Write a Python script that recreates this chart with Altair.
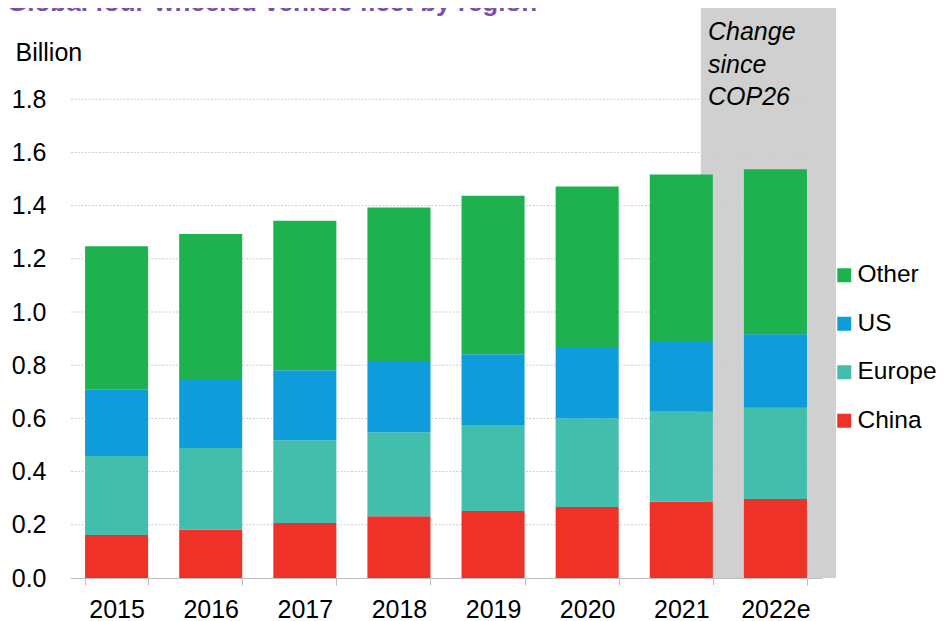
import altair as alt
import pandas as pd

years = ["2015", "2016", "2017", "2018", "2019", "2020", "2021", "2022e"]
regions = ["Other", "US", "Europe", "China"]
colors = ["#1DB150", "#0F9CDA", "#43BEAC", "#EE3228"]
china = [0.162, 0.182, 0.207, 0.232, 0.252, 0.267, 0.287, 0.297]
europe = [0.297, 0.307, 0.311, 0.316, 0.323, 0.333, 0.338, 0.343]
us = [0.251, 0.255, 0.263, 0.268, 0.266, 0.265, 0.266, 0.276]
other = [0.537, 0.549, 0.562, 0.577, 0.596, 0.607, 0.626, 0.621]
y_ticks = [0.0, 0.2, 0.4, 0.6, 0.8, 1.0, 1.2, 1.4, 1.6, 1.8]
grid_vals = [0.2, 0.4, 0.6, 0.8, 1.0, 1.2, 1.4, 1.6, 1.8]
title_text = "Global four-wheeled vehicle fleet by region"
note_text = "Change\nsince\nCOP26"

series = {"China": china, "Europe": europe, "US": us, "Other": other}
stack_rank = {"China": 0, "Europe": 1, "US": 2, "Other": 3}
rows = []
for reg, vals in series.items():
    for yr, v in zip(years, vals):
        rows.append({"year": yr, "region": reg, "value": v, "rank": stack_rank[reg]})
df = pd.DataFrame(rows)

FONT = "Liberation Sans"
ymax = 2.1429

xscale = alt.Scale(domain=years, paddingInner=0.33, paddingOuter=0.16)
yscale = alt.Scale(domain=[0, ymax], nice=False, zero=True)
xaxis = alt.Axis(title=None, labelFontSize=25, labelColor="black", labelFont=FONT,
                 domainColor="#bfbfbf", tickColor="#bfbfbf", tickSize=7,
                 tickBand="extent", labelPadding=12, labelAngle=0)
yaxis = alt.Axis(title="Billion", values=y_ticks, format=".1f", grid=False, ticks=False,
                 domain=False, labelFontSize=25, labelColor="black", labelFont=FONT,
                 labelPadding=24, titleAngle=0, titleAlign="left",
                 titleBaseline="alphabetic", titleX=-55, titleY=52,
                 titleFontSize=25, titleFontWeight="normal", titleFont=FONT,
                 titleColor="black")

band_df = pd.DataFrame({"start": ["2021"], "end": ["2022e"], "top": [2.3], "bottom": [0.0]})
band = alt.Chart(band_df).mark_rect(color="#D0D0D0", x2Offset=29).encode(
    x=alt.X("start:N", scale=xscale, axis=xaxis, bandPosition=0.81),
    x2=alt.X2("end", bandPosition=1),
    y=alt.Y("top:Q", scale=yscale, axis=yaxis),
    y2="bottom",
)

grid = alt.Chart(pd.DataFrame({"v": grid_vals})).mark_rule(
    color="#cccccc", strokeDash=[2, 1.5], strokeWidth=1
).encode(y=alt.Y("v:Q", scale=yscale, axis=yaxis))

bars = alt.Chart(df).mark_bar().encode(
    x=alt.X("year:N", scale=xscale, axis=xaxis),
    y=alt.Y("value:Q", stack="zero", scale=yscale, axis=yaxis),
    color=alt.Color("region:N", scale=alt.Scale(domain=regions, range=colors),
                    legend=alt.Legend(orient="none", legendX=762, legendY=255, title=None,
                                      symbolType="square", symbolSize=196,
                                      symbolStrokeWidth=0, labelFontSize=24.5,
                                      labelOffset=1, rowPadding=23.5, labelFont=FONT,
                                      labelColor="black", labelLimit=200)),
    order=alt.Order("rank:Q", sort="ascending"),
)

note = alt.Chart(pd.DataFrame({"t": [note_text]})).mark_text(
    align="left", baseline="alphabetic", fontSize=25, fontStyle="italic", font=FONT,
    color="black", lineBreak="\n", lineHeight=32.5
).encode(text="t:N", x=alt.value(638), y=alt.value(32))

title = alt.Chart(pd.DataFrame({"t": [title_text]})).mark_text(
    align="left", baseline="alphabetic", fontSize=26, fontWeight="bold", font=FONT,
    color="#7851A9"
).encode(text="t:N", x=alt.value(-63), y=alt.value(3))

chart = alt.layer(band, grid, bars, note, title).properties(
    width=752, height=570,
    autosize=alt.AutoSizeParams(type="none"),
    padding={"left": 62, "top": 0, "right": 119, "bottom": 43},
).configure(font=FONT).configure_view(strokeWidth=0, stroke="transparent")

chart.save("out.html", embed_options={"renderer": "svg", "actions": False})
